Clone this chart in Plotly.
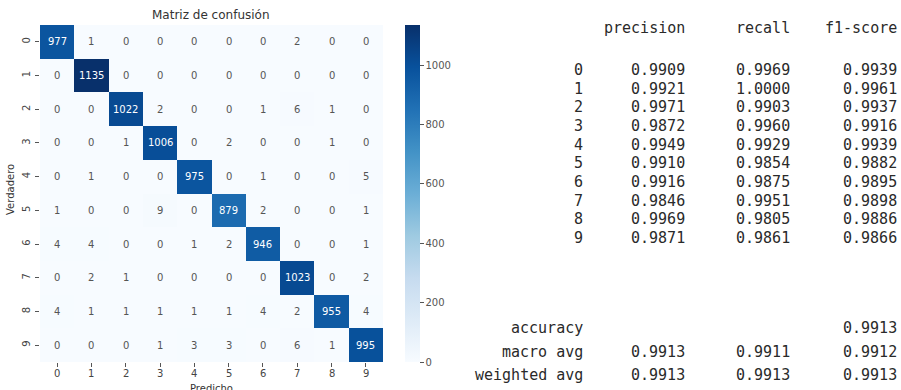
import plotly.graph_objects as go
import plotly.express as px

# ---------------- data ----------------
classes = ["0", "1", "2", "3", "4", "5", "6", "7", "8", "9"]
cm = [
    [977, 1, 0, 0, 0, 0, 0, 2, 0, 0],
    [0, 1135, 0, 0, 0, 0, 0, 0, 0, 0],
    [0, 0, 1022, 2, 0, 0, 1, 6, 1, 0],
    [0, 0, 1, 1006, 0, 2, 0, 0, 1, 0],
    [0, 1, 0, 0, 975, 0, 1, 0, 0, 5],
    [1, 0, 0, 9, 0, 879, 2, 0, 0, 1],
    [4, 4, 0, 0, 1, 2, 946, 0, 0, 1],
    [0, 2, 1, 0, 0, 0, 0, 1023, 0, 2],
    [4, 1, 1, 1, 1, 1, 4, 2, 955, 4],
    [0, 0, 0, 1, 3, 3, 0, 6, 1, 995],
]
colorbar_ticks = [0, 200, 400, 600, 800, 1000]

report_header = ["precision", "recall", "f1-score"]
report_labels = ["0", "1", "2", "3", "4", "5", "6", "7", "8", "9"]
precision = [0.9909, 0.9921, 0.9971, 0.9872, 0.9949, 0.9910, 0.9916, 0.9846, 0.9969, 0.9871]
recall = [0.9969, 1.0000, 0.9903, 0.9960, 0.9929, 0.9854, 0.9875, 0.9951, 0.9805, 0.9861]
f1_score = [0.9939, 0.9961, 0.9937, 0.9916, 0.9939, 0.9882, 0.9895, 0.9898, 0.9886, 0.9866]
summary_labels = ["accuracy", "macro avg", "weighted avg"]
summary_precision = [None, 0.9913, 0.9913]
summary_recall = [None, 0.9911, 0.9913]
summary_f1 = [0.9913, 0.9912, 0.9913]

# ---------------- layout helpers ----------------
W, H = 901, 390
PL, PR, PT, PB = 40, 383, 25, 362  # plot area in pixels


def pxx(x):
    return (x - PL) / (PR - PL)


def pxy(y):
    return (PB - y) / (PB - PT)


blues = px.colors.sequential.Blues
zmax = max(max(r) for r in cm)

fig = go.Figure()
fig.add_trace(go.Heatmap(
    z=cm,
    x=list(range(10)),
    y=list(range(10)),
    zmin=0, zmax=zmax,
    colorscale=blues,
    showscale=True,
    hoverinfo="skip",
    colorbar=dict(
        x=pxx(405), xanchor="left", xref="paper", xpad=0, ypad=0,
        y=0.5, yanchor="middle", len=1.0, lenmode="fraction",
        thickness=15, outlinewidth=0,
        tickvals=colorbar_ticks, ticks="outside", ticklen=4,
        tickcolor="#555", tickwidth=1,
        tickfont=dict(family="DejaVu Sans", size=10, color="#555"),
    ),
))

annotations = []
# cell values
for i, row in enumerate(cm):
    for j, v in enumerate(row):
        annotations.append(dict(
            x=j, y=i, xref="x", yref="y", text=str(v), showarrow=False,
            font=dict(family="DejaVu Sans", size=10,
                      color="white" if v > zmax * 0.5 else "#555555"),
        ))

# x tick labels (placed just below the tick marks)
for j, c in enumerate(classes):
    annotations.append(dict(x=j, y=pxy(374), xref="x", yref="paper", text=c,
                            showarrow=False, xanchor="center", yanchor="middle",
                            font=dict(family="DejaVu Sans", size=10, color="#444")))

# title and axis titles
annotations.append(dict(x=pxx(211), y=pxy(15), xref="paper", yref="paper",
                        text="Matriz de confusión", showarrow=False,
                        font=dict(family="DejaVu Sans", size=12, color="#333"),
                        xanchor="center", yanchor="middle"))
annotations.append(dict(x=pxx(10), y=pxy(190), xref="paper", yref="paper",
                        text="Verdadero", showarrow=False, textangle=-90,
                        font=dict(family="DejaVu Sans", size=10, color="#333"),
                        xanchor="center", yanchor="middle"))
annotations.append(dict(x=pxx(211), y=pxy(388), xref="paper", yref="paper",
                        text="Predicho", showarrow=False,
                        font=dict(family="DejaVu Sans", size=10, color="#333"),
                        xanchor="center", yanchor="middle"))

# classification report text (left-anchored so that columns end where they should)
FS = 15
CW = 0.6021 * FS
mono = dict(family="DejaVu Sans Mono", size=FS, color="#2a2a2a")
col_ends = [583, 685, 790, 897]


def add_line(y, cells):
    for xe, t in zip(col_ends, cells):
        if t is None or t == "":
            continue
        x0 = xe - len(t) * CW - 2
        annotations.append(dict(x=pxx(x0), y=pxy(y), xref="paper", yref="paper",
                                text=t, showarrow=False, font=mono,
                                xanchor="left", yanchor="middle"))


add_line(28, [None] + report_header)
row_y = [70 + k * 18.65 for k in range(10)]
for k, lab in enumerate(report_labels):
    add_line(row_y[k], [lab, f"{precision[k]:.4f}", f"{recall[k]:.4f}", f"{f1_score[k]:.4f}"])
sum_y = [328, 352, 375]
for k, lab in enumerate(summary_labels):
    p = summary_precision[k]
    r = summary_recall[k]
    add_line(sum_y[k], [lab,
                        None if p is None else f"{p:.4f}",
                        None if r is None else f"{r:.4f}",
                        f"{summary_f1[k]:.4f}"])

axis_common = dict(
    showgrid=False, zeroline=False, showline=False,
    ticks="outside", ticklen=4, tickcolor="#555", tickwidth=1,
    tickfont=dict(family="DejaVu Sans", size=10, color="#444"),
    tickvals=list(range(10)), ticktext=classes,
)

fig.update_layout(
    width=W, height=H,
    margin=dict(l=PL, r=W - PR, t=PT, b=H - PB, pad=0),
    paper_bgcolor="white", plot_bgcolor="white",
    xaxis=dict(**axis_common, range=[-0.5, 9.5], showticklabels=False),
    yaxis=dict(**axis_common, range=[9.5, -0.5], tickangle=-90, ticklabelstandoff=1),
    annotations=annotations,
    showlegend=False,
)

# remove the default page margin so the figure sits at the window's top-left corner
fig.write_html("out.html", config={"displayModeBar": False},
               post_script="document.body.style.margin='0';")
